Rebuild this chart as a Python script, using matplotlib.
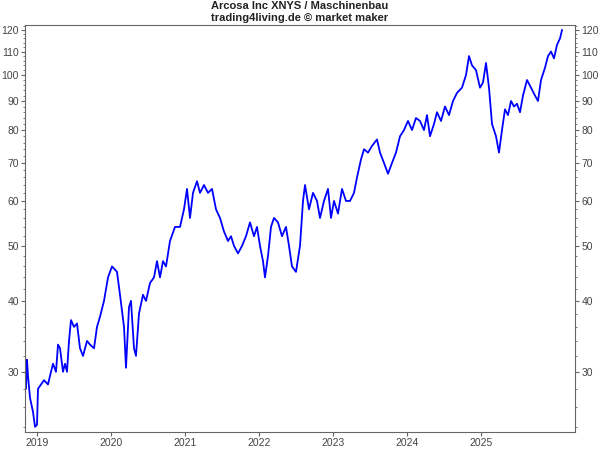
import matplotlib
matplotlib.use("Agg")
import matplotlib.pyplot as plt
import matplotlib.ticker as mt
import numpy as np

plt.rcParams['font.family'] = ['Liberation Sans', 'DejaVu Sans']

px = [25,26,27,28,30,33,35,37,38,41,44,48,50,53,56,58,60,63,65,67,69,71,74,77,80,83,87,90,94,97,100,104,108,112,117,120,124,126,129,131,134,136,139,143,146,150,154,157,160,163,166,170,175,180,184,187,190,193,197,200,204,208,212,216,220,224,228,231,234,238,242,246,250,254,257,260,263,265,268,271,274,278,282,286,289,292,296,300,303,305,309,313,317,320,324,328,331,334,338,342,346,350,354,357,361,364,368,372,377,380,384,388,392,396,400,404,408,412,416,420,424,427,430,434,437,441,445,449,453,457,462,466,469,472,476,480,483,486,489,492,496,499,502,505,508,511,514,517,520,523,527,531,535,538,541,545,548,551,554,557,560,562]
dates = [2019 + (x - 37) / 74 for x in px]
prices = [30.5,28,31.5,29.5,27,25.5,24,24.2,28,28.5,29,28.5,29.5,31,30,33.5,33,30,31,30,34,37,36,36.5,33,32,34,33.5,33,36,37.5,40,44,46,45,41,36,30.5,39,40,33,32,38,41,40,43,44,47,44,47,46,51,54,54,58,63,56,62,65,62,64,62,63,58,56,53,51,52,50,48.5,50,52,55,52,54,50,47,44,48,54,56,55,52,54,50,46,45,50,60,64,58,62,60,56,60,63,56,60,57,63,60,60,62,66,71,74,73,75,77,73,70,67,70,73,78,80,83,80,84,83,80,85,78,82,86,83,88,85,90,93,95,100,108,104,102,95,97,105,95,82,78,73,80,87,85,90,88,89,86,92,98,95,92,90,98,103,108,110,107,113,116,120]
years = [2019,2020,2021,2022,2023,2024,2025]
yticks = [30,40,50,60,70,80,90,100,110,120]

fig = plt.figure(figsize=(6,4.5), dpi=100, facecolor="white")
ax = fig.add_axes([25/600, 18/450, 550/600, 407/450])
ax.plot(dates, prices, color="#0000ff", lw=1.3)
ax.set_yscale("log")
ax.set_ylim(23.5, 122.5)
ax.set_xlim(2019 - 12/74, 2019 + 538/74)
ax.yaxis.set_major_locator(mt.FixedLocator(yticks))
ax.yaxis.set_major_formatter(mt.FixedFormatter([str(v) for v in yticks]))
ax.yaxis.set_minor_locator(mt.FixedLocator(list(range(24,123,2))))
ax.yaxis.set_minor_formatter(mt.NullFormatter())
ax.set_xticks(years)
ax.set_xticklabels([str(y) for y in years])
ax.tick_params(axis="both", which="both", labelsize=7.5, labelcolor="#444444", color="#666666", right=True, labelright=True)
ax.tick_params(which="major", length=3, pad=1.5)
ax.tick_params(which="minor", length=1.5)
for s in ax.spines.values():
    s.set_color("#666666")
fig.text(0.5, 0.998, "Arcosa Inc XNYS / Maschinenbau", ha="center", va="top", fontsize=8, fontweight="bold", color="#222222")
fig.text(0.5, 0.972, "trading4living.de © market maker", ha="center", va="top", fontsize=8, fontweight="bold", color="#222222")
fig.savefig("out.png", dpi=100, facecolor="white")
